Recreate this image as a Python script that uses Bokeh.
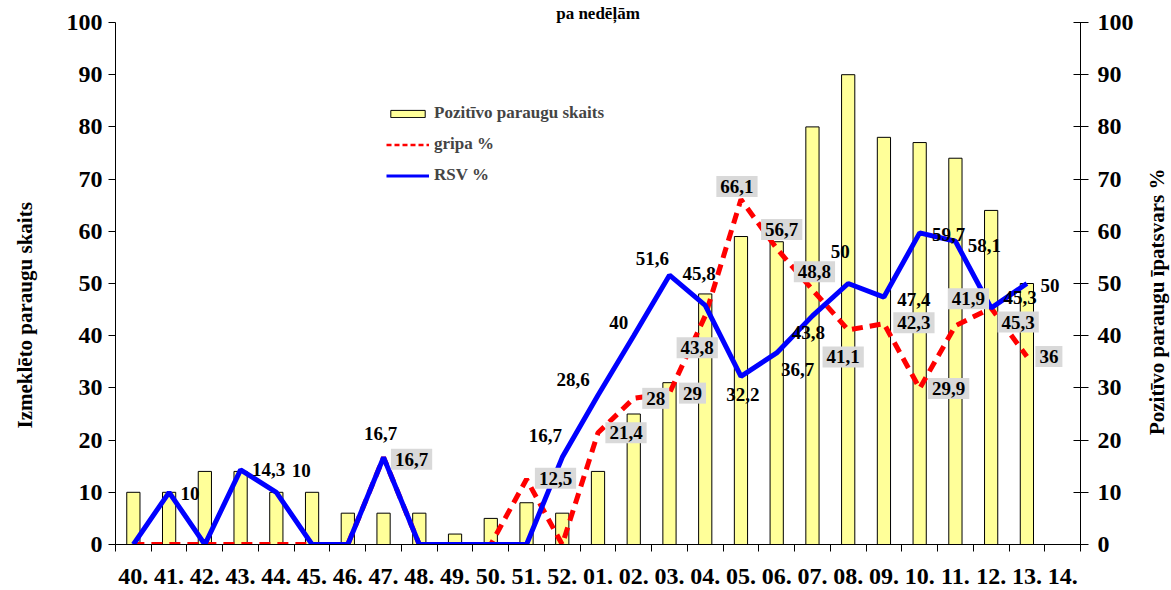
import math
from bokeh.plotting import figure
from bokeh.models import (Range1d, LinearAxis, FixedTicker, ColumnDataSource,
                          Legend, LegendItem, Label)
from bokeh.embed import file_html
from bokeh.resources import INLINE
from bokeh.core.properties import value

NAN = float("nan")

# ---------------- data ----------------
weeks = ["40.", "41.", "42.", "43.", "44.", "45.", "46.", "47.", "48.", "49.",
         "50.", "51.", "52.", "01.", "02.", "03.", "04.", "05.", "06.", "07.",
         "08.", "09.", "10.", "11.", "12.", "13.", "14."]
positive_counts = [10, 10, 14, 14, 10, 10, 6, 6, 6, 2,
                   5, 8, 6, 14, 25, 31, 48, 59, 58, 80,
                   90, 78, 77, 74, 64, 50, NAN]
flu_pct = [0, 0, 0, 0, 0, 0, 0, 16.7, 0, 0,
           0, 12.5, 0, 21.4, 28, 29, 43.8, 66.1, 56.7, 48.8,
           41.1, 42.3, 29.9, 41.9, 45.3, 36, NAN]
rsv_pct = [0, 10, 0, 14.3, 10, 0, 0, 16.7, 0, 0,
           0, 0, 16.7, 28.6, 40, 51.6, 45.8, 32.2, 36.7, 43.8,
           50, 47.4, 59.7, 58.1, 45.3, 50, NAN]

# ---------------- label placement (pixels, screen: +dy = down) ----------------
rsv_off = {1: (21, 1), 3: (28, 0), 4: (25, -22), 7: (-3, -24), 12: (-17, -22),
           13: (-25, -16), 14: (-15, -13), 15: (-17, -17), 16: (-6, -32),
           17: (2, 18), 18: (21, 17), 19: (-4, 17), 20: (-8, -32), 21: (30, 2),
           22: (29, 2), 23: (29, 4), 24: (29, -11), 25: (23, 2)}
flu_off = {7: (28, 2), 11: (29, -1), 13: (28, 0), 14: (22, 0), 15: (23, 0),
           16: (-8, 32), 17: (-4, -13), 18: (5, -19), 19: (2, -18), 20: (-5, 27),
           21: (30, -1), 22: (29, 0), 23: (13, -27), 24: (27, 14), 25: (22, 0)}


def fmt(v):
    if v == int(v):
        return str(int(v))
    return f"{v:.1f}".replace(".", ",")


def label_source(vals, offs):
    xs_, ys, ts, dxs, dys = [], [], [], [], []
    for i, v in enumerate(vals):
        if isinstance(v, float) and math.isnan(v):
            continue
        if v == 0 or i not in offs:
            continue
        xs_.append(i)
        ys.append(v)
        ts.append(fmt(v))
        dxs.append(offs[i][0])
        dys.append(offs[i][1])
    return ColumnDataSource(dict(x=xs_, y=ys, t=ts, dx=dxs, dy=dys))


xs = list(range(len(weeks)))
src = ColumnDataSource(dict(x=xs, count=positive_counts, flu=flu_pct, rsv=rsv_pct))

FONT = "Liberation Serif"

p = figure(width=1171, height=590, x_range=Range1d(-0.5, len(weeks) - 0.5),
           y_range=Range1d(0, 100), output_backend="svg", toolbar_location=None,
           min_border_left=115, min_border_right=91, min_border_top=22,
           min_border_bottom=46)
p.extra_y_ranges = {"pct": Range1d(0, 100)}
p.xgrid.visible = False
p.ygrid.visible = False
p.outline_line_color = None
p.background_fill_color = "white"
p.border_fill_color = "white"

yticks = list(range(0, 101, 10))
TICK_SIZE = "24px"

# x axis
xa = p.xaxis[0]
xa.ticker = FixedTicker(ticks=xs, minor_ticks=[i - 0.5 for i in range(len(weeks) + 1)])
xa.major_label_overrides = {i: w for i, w in enumerate(weeks)}
xa.major_tick_line_color = None
xa.major_tick_out = 0
xa.major_tick_in = 0
xa.minor_tick_line_color = "black"
xa.minor_tick_out = 7
xa.minor_tick_in = 0
xa.axis_line_color = "black"
xa.major_label_standoff = 17
xa.major_label_text_font = FONT
xa.major_label_text_font_style = "bold"
xa.major_label_text_font_size = TICK_SIZE
xa.major_label_text_color = "black"

# left axis
ya = p.yaxis[0]
ya.ticker = FixedTicker(ticks=yticks)
ya.major_tick_out = 7
ya.major_tick_in = 0
ya.minor_tick_line_color = None
ya.axis_line_color = "black"
ya.major_label_standoff = 6
ya.major_label_text_font = FONT
ya.major_label_text_font_style = "bold"
ya.major_label_text_font_size = TICK_SIZE
ya.major_label_text_color = "black"

# right axis
ra = LinearAxis(y_range_name="pct", ticker=FixedTicker(ticks=yticks))
ra.major_tick_out = 8
ra.major_tick_in = 7
ra.minor_tick_line_color = None
ra.axis_line_color = "black"
ra.major_label_standoff = 9
ra.major_label_text_font = FONT
ra.major_label_text_font_style = "bold"
ra.major_label_text_font_size = TICK_SIZE
ra.major_label_text_color = "black"
p.add_layout(ra, "right")

# axis titles, both reading bottom-to-top, placed in the side panels
axis_title_style = dict(angle=math.pi / 2, text_align="center", text_baseline="middle",
                        text_font=FONT, text_font_style="bold", text_font_size="21px",
                        text_color="black")
p.add_layout(Label(x=-3.02, y=43.9, text="Izmeklēto paraugu skaits",
                   **axis_title_style), "left")
p.add_layout(Label(x=28.63, y=46.5, text="Pozitīvo paraugu īpatsvars %",
                   **axis_title_style), "right")

# title line above the plot ("... pa nedēļām")
ta = LinearAxis(ticker=FixedTicker(ticks=[]), axis_label="pa nedēļām")
ta.axis_line_color = None
ta.major_tick_line_color = None
ta.minor_tick_line_color = None
ta.major_tick_out = 0
ta.major_tick_in = 0
ta.major_label_standoff = 0
ta.major_label_text_font_size = "1px"
ta.axis_label_standoff = 0
ta.axis_label_text_font = FONT
ta.axis_label_text_font_style = "bold"
ta.axis_label_text_font_size = "17px"
ta.axis_label_text_color = "black"
p.add_layout(ta, "above")

# glyphs
bars = p.vbar(x="x", top="count", width=0.37, source=src, fill_color="#ffff99",
              line_color="black", line_width=1)
flu_line = p.line(x="x", y="flu", source=src, y_range_name="pct", line_color="#ff0000",
                  line_width=5, line_dash="11 7")
rsv_line = p.line(x="x", y="rsv", source=src, y_range_name="pct", line_color="#0000ff",
                  line_width=5)

# legend swatches (thinner, as in the original legend); a single NaN point draws nothing
flu_key = p.line(x=[NAN], y=[NAN], line_color="#ff0000", line_width=2.5, line_dash="5 3")
rsv_key = p.line(x=[NAN], y=[NAN], line_color="#0000ff", line_width=3)

# data labels
p.text(x="x", y="y", text="t", x_offset="dx", y_offset="dy",
       source=label_source(rsv_pct, rsv_off), y_range_name="pct",
       text_align="center", text_baseline="middle", text_font=value(FONT),
       text_font_style="bold", text_font_size="19px", text_color="black")
p.text(x="x", y="y", text="t", x_offset="dx", y_offset="dy",
       source=label_source(flu_pct, flu_off), y_range_name="pct",
       text_align="center", text_baseline="middle", text_font=value(FONT),
       text_font_style="bold", text_font_size="19px", text_color="black",
       background_fill_color="#d9d9d9", padding=4)

# legend
legend = Legend(items=[LegendItem(label="Pozitīvo paraugu skaits", renderers=[bars]),
                       LegendItem(label="gripa %", renderers=[flu_key]),
                       LegendItem(label="RSV %", renderers=[rsv_key])],
                location=(271, 359), orientation="vertical",
                border_line_color=None, background_fill_alpha=0, padding=0, margin=0,
                spacing=11, label_height=20, glyph_width=43, glyph_height=9,
                label_standoff=5, label_text_font=FONT, label_text_font_style="bold",
                label_text_font_size="17px")
p.add_layout(legend)

open("out.html", "w").write(file_html(p, INLINE))
